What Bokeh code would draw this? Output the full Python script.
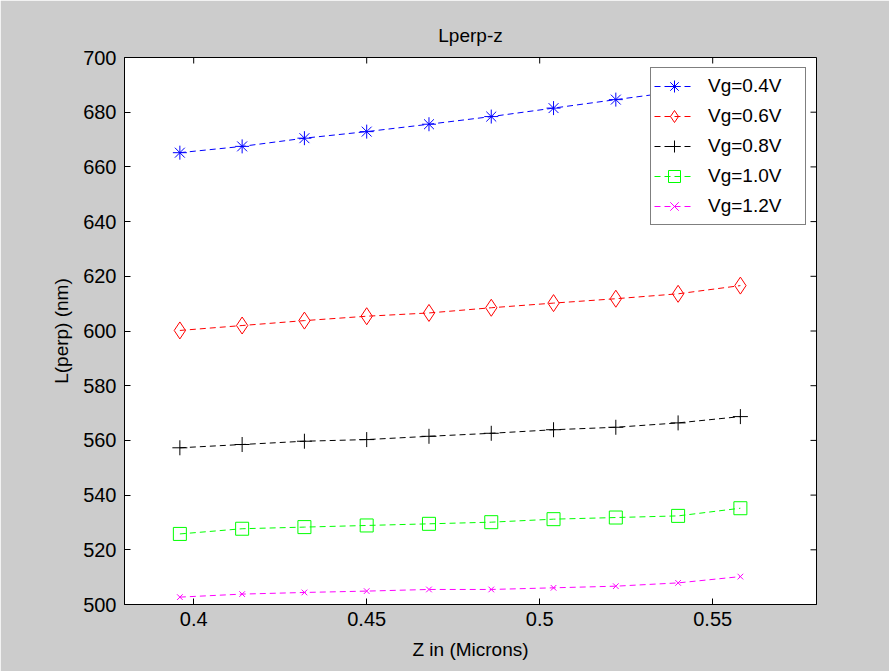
import math
from bokeh.plotting import figure
from bokeh.models import Range1d, FixedTicker, Legend, LegendItem
from bokeh.embed import file_html
from bokeh.resources import INLINE

# ---- data ----
z = [0.396, 0.414, 0.432, 0.450, 0.468, 0.486, 0.504, 0.522, 0.540, 0.558]
vg04 = [665.2, 667.5, 670.5, 672.9, 675.6, 678.4, 681.5, 684.6, 687.6, 690.6]
vg06 = [600.2, 602.0, 603.8, 605.4, 606.6, 608.5, 610.2, 611.8, 613.6, 616.6]
vg08 = [557.3, 558.5, 559.7, 560.3, 561.5, 562.6, 563.9, 564.8, 566.4, 568.7]
vg10 = [525.8, 527.7, 528.3, 528.9, 529.5, 530.1, 531.2, 531.8, 532.4, 535.2]
vg12 = [502.7, 503.8, 504.4, 504.9, 505.5, 505.5, 506.1, 506.7, 507.9, 510.2]
labels = ["Vg=0.4V", "Vg=0.6V", "Vg=0.8V", "Vg=1.0V", "Vg=1.2V"]
x_ticks = [0.4, 0.45, 0.5, 0.55]
x_tick_labels = ["0.4", "0.45", "0.5", "0.55"]
y_ticks = [500, 520, 540, 560, 580, 600, 620, 640, 660, 680, 700]
x_min, x_max = 0.38, 0.58
y_min, y_max = 500, 700

FONT = "Liberation Sans"

p = figure(width=889, height=671, output_backend="svg", toolbar_location=None,
           x_range=Range1d(x_min, x_max), y_range=Range1d(y_min, y_max),
           min_border_left=124, min_border_right=73, min_border_top=57,
           min_border_bottom=67,
           background_fill_color="white", border_fill_color="#cccccc",
           outline_line_color="black", outline_line_width=1)
p.grid.visible = False

p.title.text = "Lperp-z"
p.title.align = "center"
p.title.text_font = FONT
p.title.text_font_size = "19px"
p.title.text_font_style = "normal"
p.title.text_color = "black"
p.title.standoff = 23

for ax in (p.xaxis[0], p.yaxis[0]):
    ax.major_tick_in = 6
    ax.major_tick_out = 0
    ax.minor_tick_line_color = None
    ax.axis_line_color = "black"
    ax.major_tick_line_color = "black"
    ax.major_label_text_font = FONT
    ax.major_label_text_font_size = "20px"
    ax.major_label_text_color = "black"
    ax.axis_label_text_font = FONT
    ax.axis_label_text_font_size = "19px"
    ax.axis_label_text_font_style = "normal"
    ax.axis_label_text_color = "black"

p.xaxis[0].ticker = FixedTicker(ticks=x_ticks)
p.xaxis[0].major_label_overrides = {t: s for t, s in zip(x_ticks, x_tick_labels)}
p.xaxis[0].major_label_standoff = 7
p.xaxis[0].axis_label = "Z in (Microns)"
p.xaxis[0].axis_label_standoff = 10
p.yaxis[0].ticker = FixedTicker(ticks=y_ticks)
p.yaxis[0].major_label_standoff = 8
p.yaxis[0].axis_label = "L(perp) (nm)"
p.yaxis[0].axis_label_standoff = 8

# mirrored inward ticks on the right and top box edges (half of each dash is clipped)
p.scatter([x_max] * len(y_ticks), y_ticks, marker="dash", size=12,
          line_color="black", line_width=1)
p.scatter(x_ticks, [y_max] * len(x_ticks), marker="dash", size=12, angle=math.pi / 2,
          line_color="black", line_width=1)

series = [
    (vg04, "#0000ff", "asterisk", 14),
    (vg06, "#ff0000", "diamond", 17),
    (vg08, "#000000", "cross", 15),
    (vg10, "#00ff00", "square", 13),
    (vg12, "#ff00ff", "x", 8),
]

items = []
for (vals, col, mk, sz), lab in zip(series, labels):
    rl = p.line(z, vals, line_color=col, line_width=1, line_dash="6 4")
    rs = p.scatter(z, vals, marker=mk, size=sz, line_color=col, fill_color=None,
                   line_width=1)
    items.append(LegendItem(label=lab, renderers=[rl, rs]))

leg = Legend(items=items, location="top_right", margin=10, padding=3, spacing=-3,
             glyph_width=40, glyph_height=30, label_height=30, label_width=94,
             label_standoff=14, label_text_font=FONT, label_text_font_size="19px",
             label_text_color="black", border_line_color="black",
             background_fill_color="white", background_fill_alpha=1.0)
p.add_layout(leg)

open("out.html", "w").write(file_html(p, INLINE))
